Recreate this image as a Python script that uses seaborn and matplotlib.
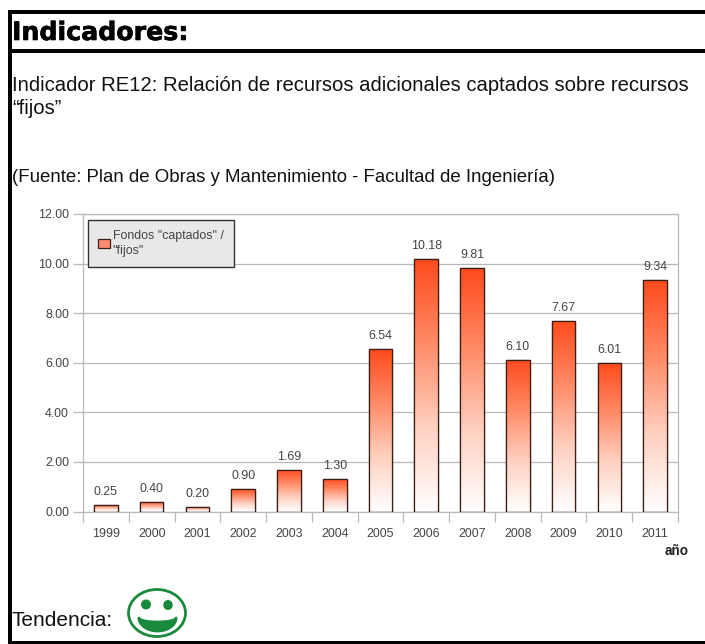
import numpy as np
import pandas as pd
import matplotlib
matplotlib.use("Agg")
import matplotlib.pyplot as plt
import matplotlib.patheffects as pe
from matplotlib.colors import LinearSegmentedColormap
from matplotlib.patches import Rectangle, Ellipse, Patch
import seaborn as sns

years = ["1999","2000","2001","2002","2003","2004","2005","2006","2007","2008","2009","2010","2011"]
fondos = [0.25,0.40,0.20,0.90,1.69,1.30,6.54,10.18,9.81,6.10,7.67,6.01,9.34]
y_ticks = [0,2,4,6,8,10,12]
series_label = 'Fondos "captados" /\n"fijos"'

W, H = 705, 644
sns.set_theme(style="white")
plt.rcParams["font.family"] = ["Liberation Sans", "DejaVu Sans"]
fig = plt.figure(figsize=(W/100, H/100), dpi=100, facecolor="white")

# page overlay in pixel coordinates
pg = fig.add_axes([0, 0, 1, 1], zorder=0)
pg.set_xlim(0, W); pg.set_ylim(H, 0); pg.axis("off")
for x, y, w, h in [(8, 10, 4, 634), (8, 10, 697, 4), (8, 49, 697, 3.5), (8, 641, 697, 3)]:
    pg.add_patch(Rectangle((x, y), w, h, fc="black", ec="none"))
pg.text(12, 33, "Indicadores:", family="DejaVu Sans", weight="bold", fontsize=18.2, color="black",
        va="center", ha="left", path_effects=[pe.withStroke(linewidth=0.45, foreground="black")])
pg.text(12, 85.5, "Indicador RE12: Relación de recursos adicionales captados sobre recursos",
        fontsize=14.55, color="#111111", va="center", ha="left")
pg.text(12, 108, "“fijos”", fontsize=14.6, color="#111111", va="center", ha="left")
pg.text(12, 177, "(Fuente: Plan de Obras y Mantenimiento - Facultad de Ingeniería)",
        fontsize=13.4, color="#111111", va="center", ha="left")
pg.text(12, 621, "Tendencia:", fontsize=15.0, color="#111111", va="center", ha="left")
pg.text(689, 551, "año", fontsize=9.8, weight="bold", color="#222222", ha="right", va="center")

# smiley
green = "#1a8a3c"
pg.add_patch(Ellipse((157, 613), 57, 47, fc="white", ec=green, lw=2.0))
pg.add_patch(Ellipse((146, 604.5), 10, 10, fc=green, ec="none"))
pg.add_patch(Ellipse((168, 605), 9.5, 10, fc=green, ec="none"))
t = np.linspace(0, np.pi, 40)
xs = np.r_[139 + 37*(1-np.cos(t))/2, (176 - 37*(1-np.cos(t))/2)]
ys = np.r_[618 + 13*np.sin(t), 618 + 4*np.sin(t)]
pg.fill(xs, ys, fc=green, ec=green, lw=2, joinstyle="round")

# chart
L, R, T, B = 83, 678, 214, 511.5
ax = fig.add_axes([L/W, 1-B/H, (R-L)/W, (B-T)/H], zorder=1)
ax.patch.set_alpha(0)
df = pd.DataFrame({"year": years, "fondos": fondos})
sns.barplot(data=df, x="year", y="fondos", ax=ax, width=0.515, color="white",
            edgecolor="#3b1d14", linewidth=0.9, saturation=1, zorder=3)
ax.set_xlabel(""); ax.set_ylabel("")

cmap = LinearSegmentedColormap.from_list("g", ["#ff4a1c", "#ff8a66", "#ffd0c0", "#ffffff"])
grad = np.linspace(0, 1, 256).reshape(-1, 1)
for bar in list(ax.patches):
    x0, x1 = bar.get_x(), bar.get_x()+bar.get_width()
    im = ax.imshow(grad, cmap=cmap, extent=(x0, x1, 0, bar.get_height()),
                   origin="upper", aspect="auto", zorder=3.5, interpolation="bilinear")
    im.set_clip_path(bar)
    ax.add_patch(Rectangle((x0, 0), x1-x0, bar.get_height(), fc="none",
                           ec="#3b1d14", lw=0.9, zorder=4))
    ax.annotate(f"{bar.get_height():.2f}", (bar.get_x()+bar.get_width()/2, bar.get_height()),
                xytext=(0, 5), textcoords="offset points", ha="center", va="bottom",
                fontsize=8.9, color="#444444", zorder=5)
ax.set_xlim(-0.5, len(years)-0.5); ax.set_ylim(0, 12)

ax.set_yticks(y_ticks, [f"{v:.2f}" for v in y_ticks])
ax.grid(axis="y", color="#b8b8b8", lw=0.9, zorder=1)
ax.grid(axis="x", visible=False)
ax.set_axisbelow(True)
for s in ax.spines.values():
    s.set_color("#b8b8b8"); s.set_linewidth(0.9); s.set_visible(True)
ax.tick_params(axis="y", length=7, width=0.9, color="#b8b8b8", labelsize=8.9, labelcolor="#444444", pad=3, left=True)
ax.tick_params(axis="x", which="major", length=0, labelsize=8.9, labelcolor="#444444", pad=12)
ax.set_xticks(np.arange(-0.5, len(years)), minor=True)
ax.tick_params(axis="x", which="minor", length=7, width=0.9, color="#b8b8b8", bottom=True)

h = Patch(fc="#ff8a70", ec="#3b1d14", lw=0.9)
leg = ax.legend([h], [series_label], loc="upper left", bbox_to_anchor=((88-L)/(R-L), 1-(220-T)/(B-T)),
                borderaxespad=0, frameon=True, fancybox=False, framealpha=1, facecolor="#e8e8e8",
                edgecolor="#333333", fontsize=8.9, labelcolor="#444444", handlelength=1.0, handleheight=0.8,
                handletextpad=0.2, borderpad=0.8, labelspacing=0.2, alignment="left")
for tx in leg.get_texts():
    tx.set_linespacing(1.35)
leg.get_frame().set_linewidth(1.0)
leg.set_zorder(6)

fig.savefig("out.png", dpi=100, facecolor="white")
